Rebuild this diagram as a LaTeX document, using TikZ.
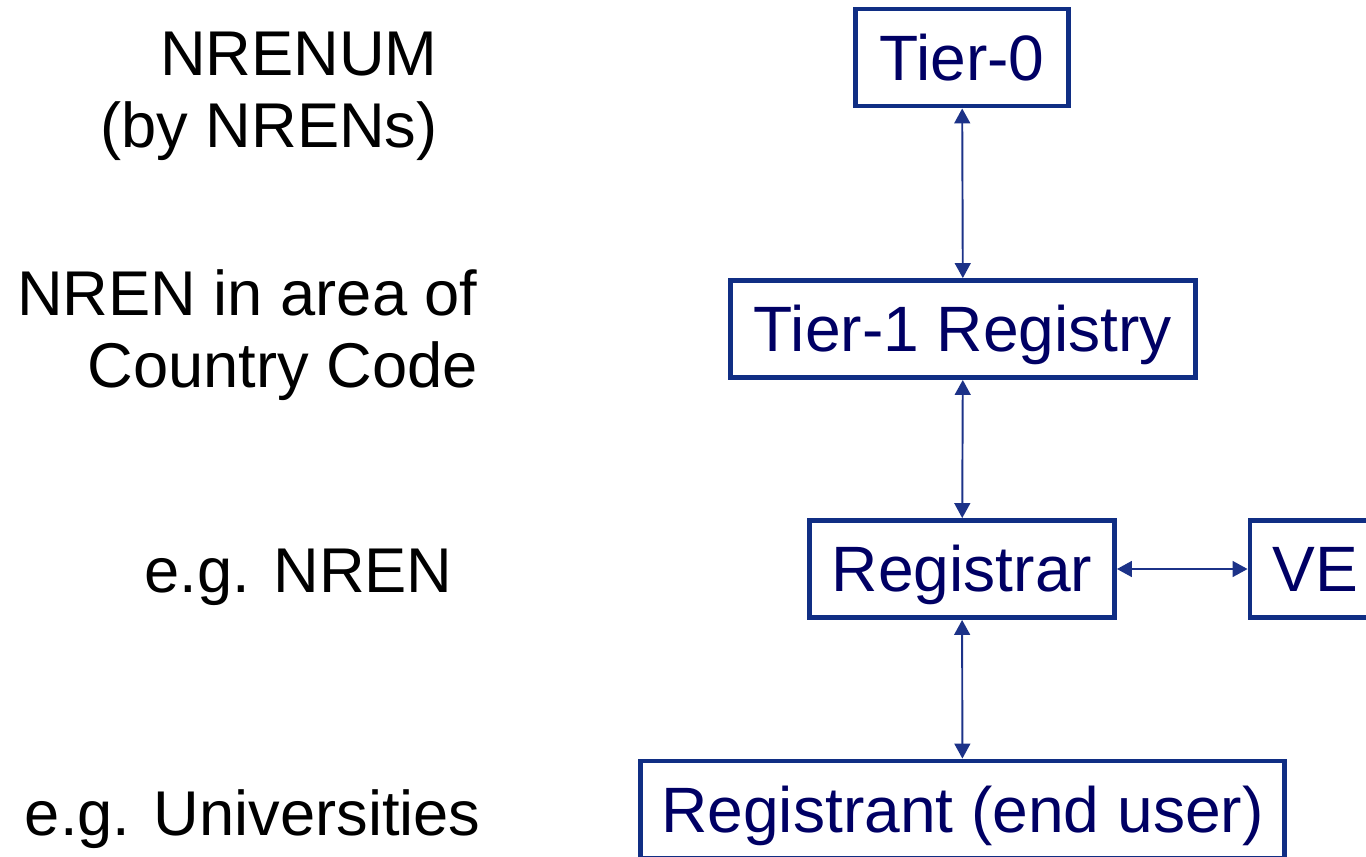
\documentclass[tikz,border=0pt]{standalone}
\usepackage{fontspec}
\setmainfont{Liberation Sans}
\usetikzlibrary{arrows.meta}
\definecolor{boxblue}{RGB}{16,46,132}
\definecolor{textnavy}{RGB}{0,0,100}
\definecolor{linkblue}{RGB}{28,50,136}

\begin{document}
\begin{tikzpicture}[x=0.02cm, y=-0.02cm,
    tier/.style={draw=boxblue, line width=2.8pt, text=textnavy, inner sep=0pt,
      font=\fontsize{36.5}{40}\selectfont, text height=26pt, text depth=0pt,
      minimum height=1.94cm},
    level/.style={align=right, inner sep=0pt, font=\fontsize{36}{40.5}\selectfont},
    link/.style={linkblue, line width=1.1pt,
      {Triangle[length=8.5pt,width=9pt]}-{Triangle[length=8.5pt,width=9pt]}}]
  \useasboundingbox (0,0) rectangle (1366,856);
  \clip (0,0) rectangle (1366,856);

  % Draw the boxes
  \node[tier, minimum width=4.26cm] (t0) at (962, 57.5) {Tier-0};
  \node[tier, minimum width=9.3cm] (t1) at (963, 329) {Tier-1 Registry};
  \node[tier, minimum width=6.1cm] (reg) at (962, 569) {Registrar};
  \node[tier, minimum width=2.6cm] (ve) at (1315, 569) {VE};
  \node[tier, minimum width=12.9cm] (rant) at (962.5, 809.5) {Registrant (end user)};

  % Draw the links
  \draw[link] (t0) -- (t1);
  \draw[link] (t1) -- (reg);
  \draw[link] (reg) -- (rant);
  \draw[link] (reg) -- (ve);

  % Draw the level labels (base = last line)
  \node[level, anchor=base east] (l0) at (438, 147) {NRENUM\\(by NRENs)};
  \node[level, anchor=base east] (l1) at (478, 387) {NREN in area of\\Country Code};
  \node[level, anchor=base east] (l2) at (453, 592) {e.g. NREN};
  \node[level, anchor=base east] (l3) at (481, 835) {e.g. Universities};

\end{tikzpicture}
\end{document}
